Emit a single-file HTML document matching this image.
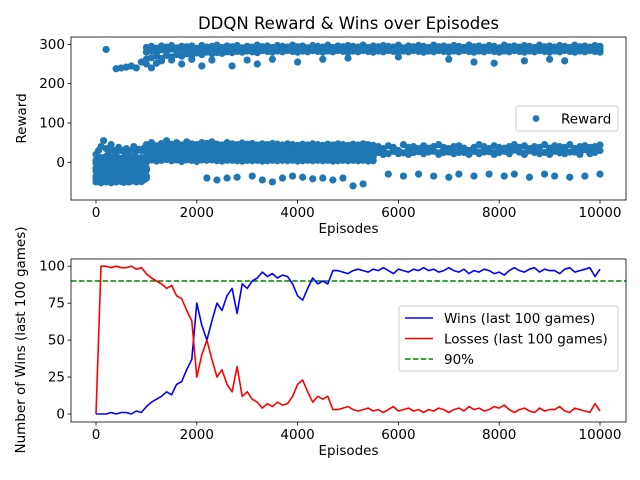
<!DOCTYPE html>
<html><head><meta charset="utf-8"><style>
body{margin:0;background:#fff}
svg{display:block;font-family:"DejaVu Sans","Liberation Sans",sans-serif}
</style></head><body>
<svg id="c" width="640" height="480" viewBox="0 0 640 480"></svg>
<script>
// ---- data ----
const bandEp = [];for(let e=1000;e<=10000;e+=100)bandEp.push(e);
const upperHi = [292,295,290,296,293,297,291,295,294,296,290,297,293,295,298,292,296,294,297,291,295,293,298,294,296,292,297,295,293,298,294,296,291,297,295,293,298,292,296,294,297,295,293,298,292,296,294,297,295,293,298,291,296,294,297,295,292,298,294,296,293,297,295,292,298,294,296,293,297,295,291,298,294,296,293,297,295,292,298,294,296,293,297,295,292,298,294,296,293,297,295];
const upperMid = [280,284,278,286,282,288,283,287,285,289,284,288,286,287,290,285,288,286,289,284,287,286,290,287,288,285,289,287,286,290,287,288,285,289,287,286,290,285,288,287,289,287,286,290,285,288,287,289,287,286,290,285,288,287,289,287,285,290,287,288,286,289,287,285,290,287,288,286,289,287,285,290,287,288,286,289,287,285,290,287,288,286,289,287,285,290,287,288,286,289,287];
const upperLo = [262,266,270,264,272,268,274,270,276,272,278,274,280,276,279,277,281,279,282,280,283,281,279,284,282,280,283,281,284,282,280,283,281,284,282,280,283,281,284,282,280,283,281,284,282,280,283,281,284,282,280,283,281,284,282,280,283,281,284,282,280,283,281,284,282,280,283,281,284,282,280,283,281,284,282,280,283,281,284,282,280,283,281,284,282,280,283,281,284,282,280];
const outEp = [200,400,500,600,700,800,900,1000,1100,1200,1300,1500,1700,1900,2100,2300,2700,3000,3200,3500,4000,4500,5000,6000,7000,7500,7900,8500,9000,9300];
const outR = [287,238,240,242,245,240,255,250,240,252,258,260,250,262,245,260,245,260,250,262,255,262,265,268,262,255,252,258,262,258];
const earlyEp = [0,50,100,150,200,250,300,350,400,450,500,550,600,650,700,750,800,850,900,950,1000];
const earlyA = [-50,-48,-52,-45,-50,-47,-52,-48,-50,-46,-49,-51,-47,-50,-48,-46,-50,-47,-49,-45,-40];
const earlyA2 = [-42,-40,-38,-41,-39,-42,-40,-38,-41,-39,-40,-42,-38,-41,-39,-40,-42,-38,-40,-41,-35];
const earlyB = [-35,-30,-28,-32,-30,-27,-33,-30,-28,-31,-29,-30,-32,-28,-30,-29,-31,-28,-30,-27,-20];
const earlyB2 = [-22,-20,-18,-21,-19,-22,-20,-18,-21,-19,-20,-22,-18,-21,-19,-20,-22,-18,-20,-21,-15];
const earlyC = [-15,-10,-8,-12,-5,-10,-7,-12,-9,-6,-10,-8,-11,-7,-9,-6,-10,-8,-12,-30,0];
const earlyC2 = [-2,0,2,-1,1,-2,0,2,-1,1,0,-2,2,-1,1,0,-2,2,0,-1,5];
const earlyD = [5,10,12,8,15,10,13,9,14,11,8,12,10,14,9,13,11,10,12,8,15];
const earlyE = [20,30,40,55,35,28,45,30,25,38,30,28,35,25,30,40,28,33,30,36,40];
const midEp = [];for(let e=1000;e<=5500;e+=100)midEp.push(e);
const midA = [45,50,42,48,55,46,50,44,52,47,45,50,48,52,46,44,50,47,45,49,46,48,44,47,45,48,46,44,47,45,43,46,44,47,45,43,46,44,47,45,43,46,44,47,45,43];
const midA2 = [36,38,34,37,40,35,38,36,39,37,35,38,36,39,35,34,38,36,35,37,36,37,34,36,35,37,36,34,36,35,34,36,35,37,35,34,36,35,37,35,34,36,35,37,35,34];
const midB = [25,28,22,26,30,24,27,23,29,25,22,27,24,28,23,21,26,24,22,27,25,23,26,21,24,27,22,25,23,26,21,24,27,22,25,23,26,21,24,27,22,25,23,26,21,24];
const midB2 = [15,17,13,16,18,14,16,12,17,15,13,16,14,17,13,12,15,14,13,16,15,14,15,12,14,16,13,15,14,15,12,14,16,13,15,14,15,12,14,16,13,15,14,15,12,14];
const midC = [5,8,3,6,10,4,7,2,9,5,2,6,-40,7,-45,4,-40,6,-38,3,5,-35,20,-45,15,-50,18,-40,15,-35,20,-38,12,-42,20,-40,15,-45,20,-40,15,-60,20,-55,15,20];
const midC2 = [5,6,4,5,7,5,6,3,6,5,4,6,5,6,4,3,5,5,4,6,5,4,5,3,4,5,4,5,4,5,3,4,5,4,5,4,5,3,4,5,4,5,4,5,3,4];
const lateEp = [5600,5700,5800,5900,6000,6100,6200,6300,6400,6500,6600,6700,6800,6900,7000,7100,7200,7300,7400,7500,7600,7700,7800,7900,8000,8100,8200,8300,8400,8500,8600,8700,8800,8900,9000,9100,9200,9300,9400,9500,9600,9700,9800,9900,10000];
const lateA = [40,35,42,38,30,45,38,40,35,42,36,40,45,38,35,40,42,36,30,38,45,40,35,42,38,36,40,45,38,42,35,40,38,45,36,42,40,38,45,35,40,42,38,40,44];
const lateA2 = [30,28,22,32,26,24,30,33,27,25,30,28,24,32,26,29,25,31,24,28,26,32,27,24,30,28,25,31,26,24,29,32,27,25,30,28,24,31,26,29,25,32,28,26,30];
const lateB = [25,20,-30,28,22,-35,20,25,-30,22,26,-35,20,25,-38,22,-30,25,20,-35,22,26,-30,20,25,-35,22,-30,26,20,-38,25,22,-30,20,-35,25,22,-38,26,20,-35,22,25,-30];
const winEp = [];for(let e=0;e<=10000;e+=100)winEp.push(e);
const wins = [0,0,0,1,0,1,1,0,2,1,5,8,10,12,15,13,20,22,30,37,75,60,50,63,75,70,80,85,68,88,85,90,92,96,93,95,92,94,93,88,80,77,85,92,88,90,88,97,97,96,95,97,98,97,96,98,97,99,97,95,98,97,96,98,97,99,97,98,96,97,99,97,96,98,95,97,96,98,97,95,96,94,97,99,97,96,98,99,96,98,97,97,95,98,99,96,97,98,99,93,98];
const losses = [0,100,100,99,100,99,99,100,98,99,95,92,90,88,85,87,80,78,70,63,25,40,50,37,25,30,20,15,32,12,15,10,8,4,7,5,8,6,7,12,20,23,15,8,12,10,12,3,3,4,5,3,2,3,4,2,3,1,3,5,2,3,4,2,3,1,3,2,4,3,1,3,4,2,5,3,4,2,3,5,4,6,3,1,3,4,2,1,4,2,3,3,5,2,1,4,3,2,1,7,2];
const xTicks = [0,2000,4000,6000,8000,10000];
const topYTicks = [0,100,200,300];
const botYTicks = [0,25,50,75,100];

// ---- drawing ----
const NS="http://www.w3.org/2000/svg";
const svg=document.getElementById('c');
function mk(t,a,p){const e=document.createElementNS(NS,t);for(const k in a)e.setAttribute(k,a[k]);(p||svg).appendChild(e);return e;}
const L=71,R=626;
const xs=v=>96+v*(504/10000);
const yTop=v=>162.3-v*0.3932;
const yBot=v=>414-v*1.478;

function axes(top,bot,yf,yt,name){
  const g=mk('g',{});
  xTicks.forEach(t=>{const x=xs(t);mk('line',{x1:x,x2:x,y1:bot,y2:bot+3.5,stroke:'#000','stroke-width':0.8},g);
    const tx=mk('text',{x:x,y:bot+17,'font-size':'13.5','text-anchor':'middle'},g);tx.textContent=t;
    });
  yt.forEach(t=>{const y=yf(t);mk('line',{x1:L-3.5,x2:L,y1:y,y2:y,stroke:'#000','stroke-width':0.8},g);
    const tx=mk('text',{x:L-6,y:y+4.5,'font-size':'13.5','text-anchor':'end'},g);tx.textContent=t;
    });
  const xl=mk('text',{x:(L+R)/2,y:bot+33,'font-size':'13.5','text-anchor':'middle'},g);xl.textContent='Episodes';
  
  return g;
}
function frame(top,bot,name){const r=mk('rect',{x:L,y:top,width:R-L,height:bot-top,fill:'none',stroke:'#000','stroke-width':0.8});
  }

const ti=mk('text',{x:(L+R)/2,y:29,'font-size':'16.5','text-anchor':'middle'});ti.textContent='DDQN Reward & Wins over Episodes';


// top chart
axes(37,200,yTop,topYTicks,'top-axes');
const yl1=mk('text',{x:0,y:0,'font-size':'13.5','text-anchor':'middle',transform:'translate(26,118.5) rotate(-90)'});yl1.textContent='Reward';

const pts=mk('g',{fill:'#1f77b4'});
function dots(ep,vals){ep.forEach((e,i)=>{const c=mk('circle',{cx:xs(e),cy:yTop(vals[i]),r:3.6},pts);
  });}
dots(bandEp,upperHi);dots(bandEp,upperMid);dots(bandEp,upperLo);dots(outEp,outR);
[earlyA,earlyA2,earlyB,earlyB2,earlyC,earlyC2,earlyD,earlyE].forEach(a=>dots(earlyEp,a));
[midA,midA2,midB,midB2,midC,midC2].forEach(a=>dots(midEp,a));
[lateA,lateA2,lateB].forEach(a=>dots(lateEp,a));
frame(37,200,'top-plot-frame');
const lg1=mk('g',{});
mk('rect',{x:516,y:106,width:102,height:25,rx:2,fill:'#fff','fill-opacity':0.8,stroke:'#ccc'},lg1);
mk('circle',{cx:536,cy:118.5,r:3.4,fill:'#1f77b4'},lg1);
const lt=mk('text',{x:561,y:123.5,'font-size':'13.5'},lg1);lt.textContent='Reward';

// bottom chart
axes(259,422,yBot,botYTicks,'bottom-axes');
const yl2=mk('text',{x:0,y:0,'font-size':'13.5','text-anchor':'middle',transform:'translate(25,340) rotate(-90)'});yl2.textContent='Number of Wins (last 100 games)';

const ref=mk('line',{x1:L,x2:R,y1:yBot(90),y2:yBot(90),stroke:'green','stroke-width':1.5,'stroke-dasharray':'5.5,2.4'});

function line(ep,vals,col,name){const d=ep.map((e,i)=>(i?'L':'M')+xs(e).toFixed(1)+','+yBot(vals[i]).toFixed(1)).join('');
  const p=mk('path',{d:d,fill:'none',stroke:col,'stroke-width':1.6,'stroke-linejoin':'round'});
  }
line(winEp,wins,'blue','wins-line');line(winEp,losses,'red','losses-line');
frame(259,422,'bottom-plot-frame');
const lg2=mk('g',{});
mk('rect',{x:399,y:306,width:219,height:65,rx:2,fill:'#fff','fill-opacity':0.8,stroke:'#ccc'},lg2);
[['blue','Wins (last 100 games)',''],['red','Losses (last 100 games)',''],['green','90%','5.5,2.4']].forEach((it,i)=>{
  const y=318+i*20.5;
  mk('line',{x1:405,x2:433,y1:y,y2:y,stroke:it[0],'stroke-width':1.5,'stroke-dasharray':it[2]||'none'},lg2);
  const t=mk('text',{x:444,y:y+5,'font-size':'13.5'},lg2);t.textContent=it[1];
  
});
</script>
</body></html>
